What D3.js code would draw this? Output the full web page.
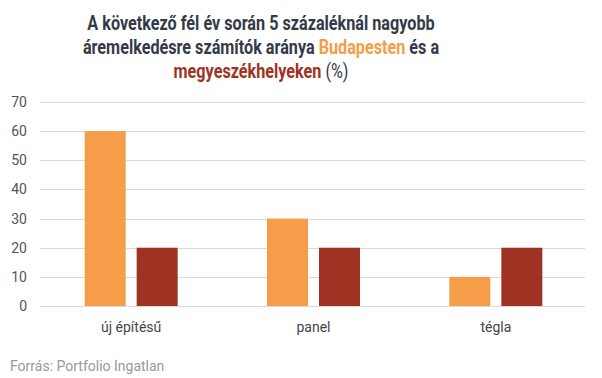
<!DOCTYPE html>
<html>
<head>
<meta charset="utf-8">
<script src="https://cdn.jsdelivr.net/npm/d3@7"></script>
<style>
  body { margin: 0; background: #fff; }
  svg { font-family: Roboto, "Noto Sans", sans-serif; }
</style>
</head>
<body>
<svg id="chart"></svg>
<script>
const width = 602;
const height = 378;

// adatok
const categories = ["új építésű", "panel", "tégla"];
const budapest = [60, 30, 10];
const megye = [20, 20, 20];
const yTicks = [0, 10, 20, 30, 40, 50, 60, 70];

const colors = { budapest: "#F59D48", megye: "#A03223" };

const svg = d3.select("#chart").attr("width", width).attr("height", height);

const margin = { top: 102, right: 15, bottom: 72, left: 40 };

const x = d3
  .scaleBand()
  .domain(categories)
  .range([margin.left, width - margin.right]);

const y = d3
  .scaleLinear()
  .domain([0, 70])
  .range([height - margin.bottom, margin.top]);

// cím (keskenyített betű, mint az eredetin)
const title = svg
  .append("text")
  .attr("transform", "translate(261,0) scale(0.81,1)")
  .attr("text-anchor", "middle")
  .attr("font-size", 20)
  .attr("font-weight", "bold")
  .attr("fill", "#333a47");

title.append("tspan").attr("x", 0).attr("y", 30)
  .text("A következő fél év során 5 százaléknál nagyobb");
const l2 = title.append("tspan").attr("x", 0).attr("y", 54);
l2.append("tspan").text("áremelkedésre számítók aránya ");
l2.append("tspan").attr("fill", colors.budapest).text("Budapesten");
l2.append("tspan").text(" és a");
const l3 = title.append("tspan").attr("x", 0).attr("y", 78);
l3.append("tspan").attr("fill", colors.megye).text("megyeszékhelyeken");
l3.append("tspan").attr("font-weight", "normal").text(" (%)");

// rácsvonalak
svg
  .append("g")
  .selectAll("line")
  .data(yTicks)
  .join("line")
  .attr("x1", margin.left)
  .attr("x2", width - margin.right - 2)
  .attr("y1", (d) => Math.round(y(d)) + 0.5)
  .attr("y2", (d) => Math.round(y(d)) + 0.5)
  .attr("stroke", "#d9d9d9")
  .attr("stroke-width", 1);

// y tengely feliratok
svg
  .append("g")
  .selectAll("text")
  .data(yTicks)
  .join("text")
  .attr("x", 27)
  .attr("y", (d) => y(d) + 5)
  .attr("text-anchor", "end")
  .attr("font-size", 14)
  .attr("fill", "#555")
  .text((d) => d);

// oszlopok
const barW = 41;
const gap = 11;
const groups = svg
  .append("g")
  .selectAll("g")
  .data(categories)
  .join("g")
  .attr("transform", (d) => `translate(${x(d) + x.bandwidth() / 2},0)`);

groups
  .append("rect")
  .attr("x", -barW - gap / 2)
  .attr("width", barW)
  .attr("y", (d, i) => y(budapest[i]))
  .attr("height", (d, i) => y(0) - y(budapest[i]))
  .attr("fill", colors.budapest);

groups
  .append("rect")
  .attr("x", gap / 2)
  .attr("width", barW)
  .attr("y", (d, i) => y(megye[i]))
  .attr("height", (d, i) => y(0) - y(megye[i]))
  .attr("fill", colors.megye);

// kategória feliratok
groups
  .append("text")
  .attr("y", y(0) + 26)
  .attr("text-anchor", "middle")
  .attr("font-size", 14)
  .attr("fill", "#444")
  .text((d) => d);

// forrás
svg
  .append("text")
  .attr("x", 10)
  .attr("y", 371)
  .attr("font-size", 14)
  .attr("fill", "#999")
  .text("Forrás: Portfolio Ingatlan");
</script>
</body>
</html>
